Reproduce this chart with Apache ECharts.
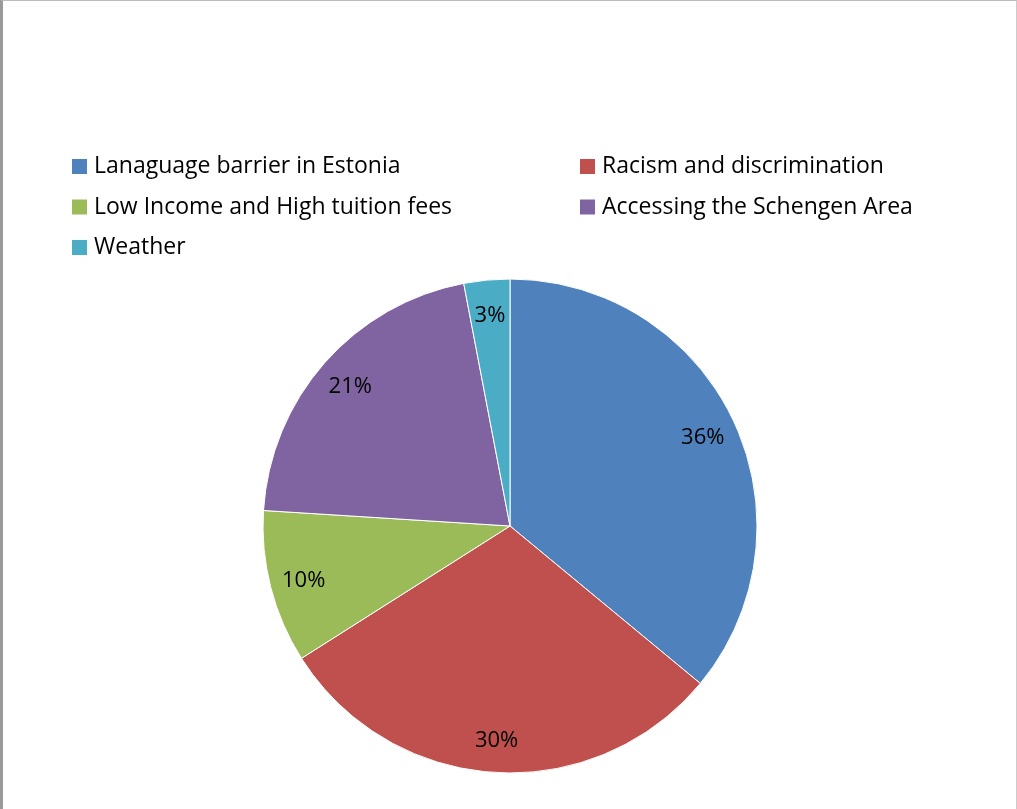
<!DOCTYPE html>
<html>
<head>
<meta charset="utf-8">
<script src="https://cdn.jsdelivr.net/npm/echarts@6/dist/echarts.min.js"></script>
<style>
  html, body { margin: 0; padding: 0; background: #fff; }
  #chart {
    width: 1013px; height: 808px;
    border-left: 3px solid #999;
    border-top: 1px solid #bbb;
    border-right: 1px solid #ccc;
  }
</style>
</head>
<body>
<div id="chart"></div>
<script>
// survey answers (percent)
const categories = ['Lanaguage barrier in Estonia', 'Racism and discrimination', 'Low Income and High tuition fees', 'Accessing the Schengen Area', 'Weather'];
const values = [36, 30, 10, 21, 3];
const colors = ['#4F81BD', '#C0504D', '#9BBB59', '#8064A2', '#4BACC6'];

const chart = echarts.init(document.getElementById('chart'));
const pieData = categories.map((name, i) => ({ name: name, value: values[i], itemStyle: { color: colors[i] } }));
const labelData = categories.map((name, i) => ({ name: name, value: values[i] }));
const font = 'Open Sans';

const legendBase = {
    orient: 'vertical',
    top: 149,
    itemWidth: 17,
    itemHeight: 17,
    itemGap: 17.5,
    icon: 'rect',
    textStyle: { fontFamily: font, fontSize: 23, color: '#000', padding: [0, 0, 0, 1] },
    selectedMode: false
};

chart.setOption({
    animation: false,
    legend: [
        Object.assign({}, legendBase, { left: 62, data: [categories[0], categories[2], categories[4]] }),
        Object.assign({}, legendBase, { left: 570, data: [categories[1], categories[3]] })
    ],
    series: [
        {
            type: 'pie',
            center: [507, 525],
            radius: [0, 247],
            startAngle: 90,
            clockwise: true,
            data: pieData,
            label: { show: false },
            labelLine: { show: false },
            itemStyle: { borderColor: '#fff', borderWidth: 1 }
        },
        {
            // transparent ring that only carries the percent labels
            type: 'pie',
            center: [507, 527],
            radius: [172, 248],
            startAngle: 90,
            silent: true,
            data: labelData,
            itemStyle: { color: 'rgba(0,0,0,0)' },
            label: {
                show: true,
                position: 'inside',
                formatter: '{d}%',
                fontFamily: font,
                fontSize: 22,
                color: '#000'
            },
            labelLine: { show: false }
        }
    ]
});
</script>
</body>
</html>
